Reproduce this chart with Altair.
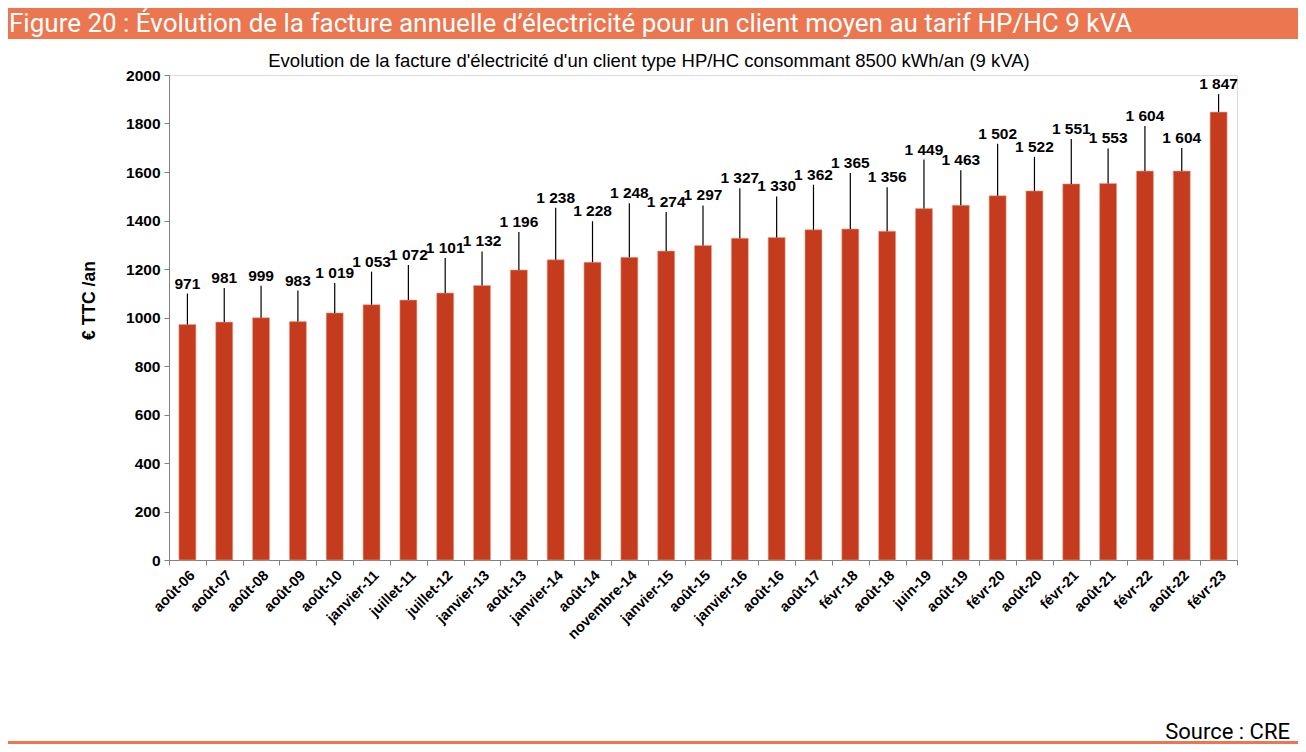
import altair as alt
import pandas as pd

categories = ["août-06", "août-07", "août-08", "août-09", "août-10", "janvier-11", "juillet-11",
              "juillet-12", "janvier-13", "août-13", "janvier-14", "août-14", "novembre-14",
              "janvier-15", "août-15", "janvier-16", "août-16", "août-17", "févr-18", "août-18",
              "juin-19", "août-19", "févr-20", "août-20", "févr-21", "août-21", "févr-22",
              "août-22", "févr-23"]
values = [971, 981, 999, 983, 1019, 1053, 1072, 1101, 1132, 1196, 1238, 1228, 1248, 1274, 1297,
          1327, 1330, 1362, 1365, 1356, 1449, 1463, 1502, 1522, 1551, 1553, 1604, 1604, 1847]
# height of each value label above its bar (in pixels, as placed in the original)
label_lift_px = [41, 44, 42, 41, 40, 43, 45, 45, 44, 48, 62, 51, 64, 49, 50, 60, 51, 55, 66, 54,
                 59, 45, 62, 44, 55, 45, 55, 33, 28]

banner_text = "Figure 20 : Évolution de la facture annuelle d’électricité pour un client moyen au tarif HP/HC 9 kVA"
subtitle_text = "Evolution de la facture d'électricité d'un client type HP/HC consommant 8500 kWh/an (9 kVA)"
source_text = "Source : CRE"
y_title = "€ TTC /an"

W, H = 1068, 485
YMAX = 2000
per_px = YMAX / H

df = pd.DataFrame({
    "cat": categories,
    "val": values,
    "lift": label_lift_px,
})
df["label"] = [f"{v:,}".replace(",", " ") for v in values]
df["label_y"] = df["val"] + df["lift"] * per_px
df["line_top"] = df["label_y"] - 10 * per_px

BAR = "#C43B1D"
ORANGE = "#EC7650"
FONT = "Liberation Sans"

xenc = alt.X("cat:N", sort=categories,
             scale=alt.Scale(paddingInner=0, paddingOuter=0),
             axis=alt.Axis(title=None, labelAngle=-45, labelAlign="right", labelBaseline="top",
                           labelFont=FONT, labelFontSize=14.5, labelFontWeight="bold",
                           labelColor="black", labelPadding=3, tickBand="extent", tickSize=5,
                           tickColor="#808080", domainColor="#808080"))
yscale = alt.Scale(domain=[0, YMAX], nice=False)

base = alt.Chart(df)

bars = base.mark_bar(size=17, color=BAR, stroke="#EBA58F", strokeWidth=0.6).encode(
    x=xenc,
    y=alt.Y("val:Q", scale=yscale,
            axis=alt.Axis(values=list(range(0, 2001, 200)), format="d", grid=False,
                          labelFont=FONT, labelFontSize=15.5, labelFontWeight="bold",
                          labelColor="black", labelPadding=4, tickSize=5,
                          tickColor="#808080", domainColor="#808080",
                          title=y_title, titleFont=FONT, titleFontSize=17.5,
                          titleFontWeight="bold", titleColor="black", titlePadding=27,
                          titleY=225)),
)

leaders = base.mark_rule(color="black", strokeWidth=1.2).encode(
    x=alt.X("cat:N", sort=categories),
    y=alt.Y("val:Q", scale=yscale),
    y2="line_top:Q",
)

labels = base.mark_text(font=FONT, fontSize=15.5, fontWeight="bold", color="black",
                        baseline="middle", align="center").encode(
    x=alt.X("cat:N", sort=categories),
    y=alt.Y("label_y:Q", scale=yscale),
    text="label:N",
)

one = alt.Chart(pd.DataFrame({"k": [0]}))

banner = one.mark_rect(color=ORANGE).encode(
    x=alt.value(-161), x2=alt.value(1129), y=alt.value(-67), y2=alt.value(-36))
banner_txt = one.mark_text(font="Roboto", fontSize=26, color="white", align="left",
                           baseline="middle").encode(
    x=alt.value(-160), y=alt.value(-51), text=alt.value(banner_text))
subtitle = one.mark_text(font=FONT, fontSize=18.5, color="black", align="center",
                         baseline="middle").encode(
    x=alt.value(480), y=alt.value(-14), text=alt.value(subtitle_text))
source = one.mark_text(font="Roboto", fontSize=22, color="black", align="right",
                       baseline="middle").encode(
    x=alt.value(1121), y=alt.value(657), text=alt.value(source_text))
bottom_line = one.mark_rect(color=ORANGE).encode(
    x=alt.value(-161), x2=alt.value(1129), y=alt.value(666), y2=alt.value(669))

chart = alt.layer(bars, leaders, labels, banner, banner_txt, subtitle, source, bottom_line).properties(
    width=W, height=H,
    autosize=alt.AutoSizeParams(type="none"),
    padding={"left": 161, "top": 67, "right": 61, "bottom": 184},
).configure_view(stroke=None).configure(background="white")

chart.save("out.html", embed_options={"renderer": "svg", "actions": False})
